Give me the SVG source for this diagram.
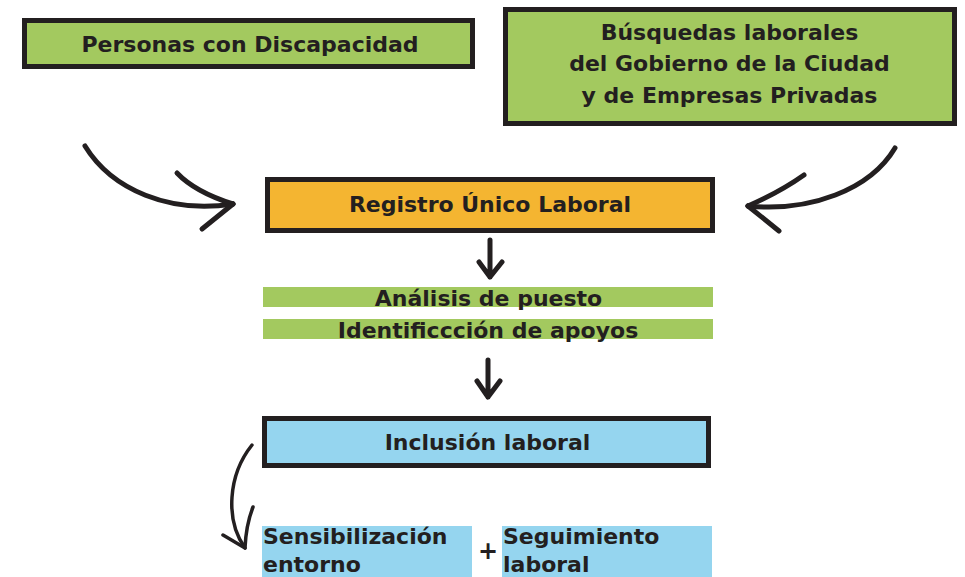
<svg xmlns="http://www.w3.org/2000/svg" width="965" height="577" viewBox="0 0 965 577">
<style>
  .box { stroke: #231f20; stroke-width: 5; }
  .green { fill: #a3c95f; }
  .orange { fill: #f4b531; }
  .blue { fill: #95d5ef; }
  .t { font-family: "DejaVu Sans", "Liberation Sans", sans-serif; font-weight: bold; font-size: 22px; fill: #231f20; }
  .c { text-anchor: middle; }
  .arr { fill: none; stroke: #231f20; stroke-width: 5; stroke-linecap: round; stroke-linejoin: round; }
</style>
<rect width="965" height="577" fill="#ffffff"/>

<g id="personas">
  <rect class="box green" x="24.5" y="20.5" width="448" height="46"/>
  <text class="t c" x="250" y="52">Personas con Discapacidad</text>
</g>

<g id="busquedas">
  <rect class="box green" x="505.5" y="9.5" width="449" height="114"/>
  <text class="t c" x="729.5" y="39.5">Búsquedas laborales</text>
  <text class="t c" x="729.5" y="71">del Gobierno de la Ciudad</text>
  <text class="t c" x="729.5" y="102.5">y de Empresas Privadas</text>
</g>

<g id="registro">
  <rect class="box orange" x="267.5" y="179.5" width="445" height="51"/>
  <text class="t c" x="490" y="212">Registro Único Laboral</text>
</g>

<g id="analisis">
  <rect class="green" x="263" y="287" width="450" height="20"/>
  <rect class="green" x="263" y="319" width="450" height="20"/>
  <text class="t c" x="488.5" y="306">Análisis de puesto</text>
  <text class="t c" x="488" y="338">Identificcción de apoyos</text>
</g>

<g id="inclusion">
  <rect class="box blue" x="264.5" y="418.5" width="444" height="47"/>
  <text class="t c" x="487.5" y="450">Inclusión laboral</text>
</g>

<g id="sensibilizacion">
  <rect class="blue" x="262" y="526" width="210" height="51"/>
  <text class="t" x="263" y="544">Sensibilización</text>
  <text class="t" x="263" y="572">entorno</text>
</g>

<g id="plus">
  <text class="t c" x="488" y="559" style="font-size:24px">+</text>
</g>

<g id="seguimiento">
  <rect class="blue" x="502" y="526" width="210" height="51"/>
  <text class="t" x="503" y="544">Seguimiento</text>
  <text class="t" x="503" y="572">laboral</text>
</g>

<g id="connectors">
  <path class="arr" d="M85,146 C112,190 170,214 233,204"/>
  <path class="arr" d="M177,173 Q195,192 233,204"/>
  <path class="arr" d="M233,204 L202,229"/>
  <path class="arr" d="M895,148 C870,190 810,212 748,206"/>
  <path class="arr" d="M804,175 Q780,192 748,206"/>
  <path class="arr" d="M748,206 L779,231"/>
  <path class="arr" d="M490,240 L490,277 M479,262 L490,277 L502,262"/>
  <path class="arr" d="M488,360 L488,397 M477,381 L488,397 L500,381"/>
  <path class="arr" style="stroke-width:3.5" d="M252,445 C228,475 225,520 245,548"/>
  <path class="arr" style="stroke-width:3.5" d="M223,535 L245,548 Q246,525 253,507"/>
</g>
</svg>
